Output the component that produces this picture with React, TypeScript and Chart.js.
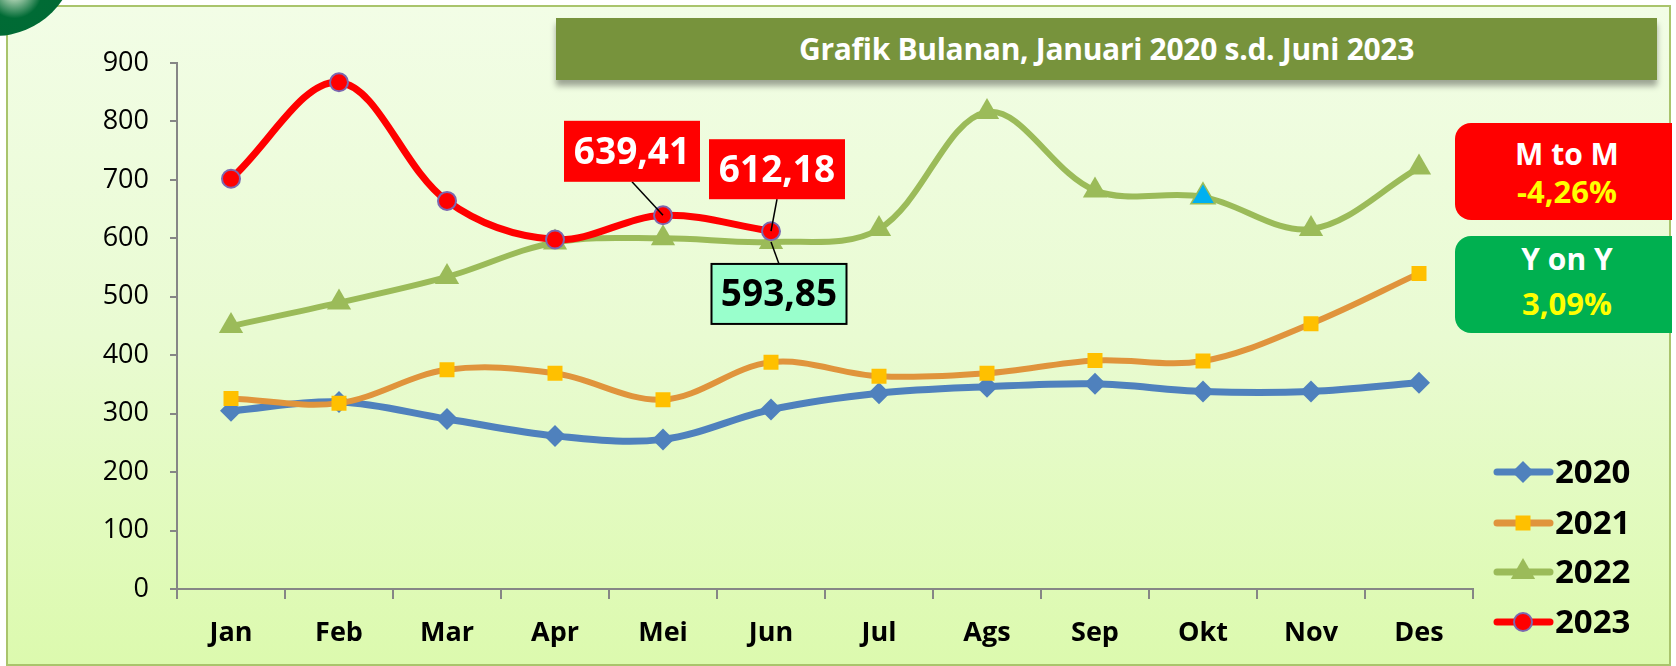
import React, { useEffect, useRef } from "react";
import { Chart, registerables } from "chart.js";

Chart.register(...registerables);

const MONTHS = ["Jan", "Feb", "Mar", "Apr", "Mei", "Jun", "Jul", "Ags", "Sep", "Okt", "Nov", "Des"];
const Y_TICKS = [0, 100, 200, 300, 400, 500, 600, 700, 800, 900];
const SERIES_NAMES = ["2020", "2021", "2022", "2023"];

const DATA_2020 = [305, 320, 291, 262, 256, 307, 335, 346, 351, 338, 338, 353];
const DATA_2021 = [326, 318, 375, 369, 324, 388, 364, 369, 391, 390, 454, 540];
const DATA_2022 = [450, 490, 534, 593, 600, 593.85, 616, 816, 682, 671, 616, 721];
const DATA_2023 = [702, 867, 664, 598, 639.41, 612.18, null, null, null, null, null, null];

const TITLE = "Grafik Bulanan, Januari 2020 s.d. Juni 2023";
const MTOM_LABEL = "M to M";
const MTOM_VALUE = "-4,26%";
const YOY_LABEL = "Y on Y";
const YOY_VALUE = "3,09%";

// callouts: series index, month index, text
const CALLOUTS = [
  { series: 3, index: 4, text: "639,41" },
  { series: 3, index: 5, text: "612,18" },
  { series: 2, index: 5, text: "593,85" },
];

const FONT = "'Open Sans', 'Noto Sans', sans-serif";

const COLORS = {
  blue: "#4F81BD",
  orangeLine: "#E0943C",
  orangeMarker: "#FFC000",
  green: "#9BBB59",
  red: "#FF0000",
  purple: "#7B68B0",
  okt: "#00B0F0",
  axis: "#868686",
};

function drawMarker(ctx: CanvasRenderingContext2D, style: string, x: number, y: number, r: number, fill: string, stroke?: string, bw?: number) {
  ctx.save();
  ctx.beginPath();
  if (style === "rectRot") {
    ctx.moveTo(x - r, y);
    ctx.lineTo(x, y - r);
    ctx.lineTo(x + r, y);
    ctx.lineTo(x, y + r);
    ctx.closePath();
  } else if (style === "rect") {
    const s = Math.SQRT1_2 * r;
    ctx.rect(x - s, y - s, 2 * s, 2 * s);
  } else if (style === "triangle") {
    ctx.moveTo(x, y - r);
    ctx.lineTo(x + r * Math.sin((2 * Math.PI) / 3), y + r / 2);
    ctx.lineTo(x - r * Math.sin((2 * Math.PI) / 3), y + r / 2);
    ctx.closePath();
  } else {
    ctx.arc(x, y, r, 0, Math.PI * 2);
  }
  ctx.fillStyle = fill;
  ctx.fill();
  if (stroke && bw) {
    ctx.strokeStyle = stroke;
    ctx.lineWidth = bw;
    ctx.stroke();
  }
  ctx.restore();
}

const overlayPlugin = {
  id: "overlay",
  afterDatasetsDraw(chart: any) {
    const ctx: CanvasRenderingContext2D = chart.ctx;
    const xs = chart.scales.x;
    const ys = chart.scales.y;
    const series = [DATA_2020, DATA_2021, DATA_2022, DATA_2023];
    const cfg = [
      { dx: -31, dy: -64, w: 136, h: 61, bg: "#FF0000", fg: "#FFFFFF", border: null, above: true },
      { dx: 6, dy: -62, w: 136, h: 60, bg: "#FF0000", fg: "#FFFFFF", border: null, above: true },
      { dx: 8, dy: 52, w: 135, h: 60, bg: "#99FFCC", fg: "#000000", border: "#000000", above: false },
    ];
    CALLOUTS.forEach((c, i) => {
      const v = series[c.series][c.index] as number;
      const px = xs.getPixelForValue(c.index);
      const py = ys.getPixelForValue(v);
      const k = cfg[i];
      const bx = px + k.dx;
      const by = py + k.dy;
      ctx.save();
      ctx.strokeStyle = "#000";
      ctx.lineWidth = 1.5;
      ctx.beginPath();
      ctx.moveTo(bx, k.above ? by + k.h / 2 : by - k.h / 2);
      ctx.lineTo(px, py);
      ctx.stroke();
      ctx.fillStyle = k.bg;
      ctx.fillRect(bx - k.w / 2, by - k.h / 2, k.w, k.h);
      if (k.border) {
        ctx.lineWidth = 2;
        ctx.strokeStyle = k.border;
        ctx.strokeRect(bx - k.w / 2, by - k.h / 2, k.w, k.h);
      }
      ctx.fillStyle = k.fg;
      ctx.font = `bold 37px ${FONT}`;
      ctx.textAlign = "center";
      ctx.textBaseline = "middle";
      ctx.fillText(c.text, bx, by + 2);
      ctx.restore();
    });

    // legend
    const legendYs = [472, 523, 572, 622];
    const lineColors = [COLORS.blue, COLORS.orangeLine, COLORS.green, COLORS.red];
    const markerStyles = ["rectRot", "rect", "triangle", "circle"];
    const markerFills = [COLORS.blue, COLORS.orangeMarker, COLORS.green, COLORS.red];
    const markerR = [11, 10.6, 14, 9];
    SERIES_NAMES.forEach((name, i) => {
      const y = legendYs[i];
      ctx.save();
      ctx.strokeStyle = lineColors[i];
      ctx.lineWidth = 7;
      ctx.lineCap = "round";
      ctx.beginPath();
      ctx.moveTo(1497, y);
      ctx.lineTo(1550, y);
      ctx.stroke();
      drawMarker(ctx, markerStyles[i], 1523, y, markerR[i], markerFills[i], i === 3 ? COLORS.purple : undefined, i === 3 ? 2 : undefined);
      ctx.fillStyle = "#000";
      ctx.font = `bold 33px ${FONT}`;
      ctx.textAlign = "left";
      ctx.textBaseline = "middle";
      ctx.fillText(name, 1555, y + 2);
      ctx.restore();
    });
  },
};

export default function App() {
  const canvasRef = useRef<HTMLCanvasElement | null>(null);

  useEffect(() => {
    const canvas = canvasRef.current;
    if (!canvas) return;
    const common = { borderWidth: 7, tension: 0.35, pointBorderWidth: 0, spanGaps: false };
    const chart = new Chart(canvas, {
      type: "line",
      data: {
        labels: MONTHS,
        datasets: [
          {
            ...common,
            label: SERIES_NAMES[0],
            data: DATA_2020,
            borderColor: COLORS.blue,
            backgroundColor: COLORS.blue,
            pointStyle: "rectRot",
            pointRadius: 11,
            pointBackgroundColor: COLORS.blue,
            pointBorderColor: COLORS.blue,
            order: 3,
          },
          {
            ...common,
            borderWidth: 6,
            label: SERIES_NAMES[1],
            data: DATA_2021,
            borderColor: COLORS.orangeLine,
            backgroundColor: COLORS.orangeMarker,
            pointStyle: "rect",
            pointRadius: 10.6,
            pointBackgroundColor: COLORS.orangeMarker,
            pointBorderColor: COLORS.orangeMarker,
            order: 2,
          },
          {
            ...common,
            borderWidth: 6,
            label: SERIES_NAMES[2],
            data: DATA_2022,
            borderColor: COLORS.green,
            backgroundColor: COLORS.green,
            pointStyle: "triangle",
            pointRadius: 14,
            pointBackgroundColor: MONTHS.map((m) => (m === "Okt" ? COLORS.okt : COLORS.green)),
            pointBorderColor: COLORS.green,
            pointBorderWidth: MONTHS.map((m) => (m === "Okt" ? 1.5 : 0)),
            order: 1,
          },
          {
            ...common,
            label: SERIES_NAMES[3],
            data: DATA_2023,
            borderColor: COLORS.red,
            backgroundColor: COLORS.red,
            pointStyle: "circle",
            pointRadius: 9,
            pointBackgroundColor: COLORS.red,
            pointBorderColor: COLORS.purple,
            pointBorderWidth: 2,
            order: 0,
          },
        ],
      },
      options: {
        responsive: false,
        animation: false,
        devicePixelRatio: 1,
        layout: { padding: { left: 0, top: 63, right: 203, bottom: 0 } },
        plugins: { legend: { display: false }, tooltip: { enabled: false } },
        scales: {
          x: {
            offset: true,
            grid: { display: true, drawOnChartArea: false, drawTicks: true, tickLength: 10, color: COLORS.axis, lineWidth: 2, offset: true },
            border: { display: true, color: COLORS.axis, width: 2 },
            ticks: { color: "#000", font: { family: FONT, size: 27, weight: "bold" }, padding: 18, maxRotation: 0 },
            afterFit: (axis: any) => {
              axis.height = 77;
            },
          },
          y: {
            min: 0,
            max: 900,
            afterBuildTicks: (axis: any) => {
              axis.ticks = Y_TICKS.map((v) => ({ value: v }));
            },
            grid: { display: true, drawOnChartArea: false, drawTicks: true, tickLength: 7, color: COLORS.axis, lineWidth: 2 },
            border: { display: true, color: COLORS.axis, width: 2 },
            ticks: { color: "#000", font: { family: FONT, size: 27 }, padding: 21 },
            afterFit: (axis: any) => {
              axis.width = 177;
            },
          },
        },
      },
      plugins: [overlayPlugin],
    } as any);
    return () => chart.destroy();
  }, []);

  const boxText: React.CSSProperties = {
    fontFamily: FONT,
    fontWeight: 700,
    textAlign: "center",
    lineHeight: 1,
  };

  return (
    <div style={{ position: "fixed", left: 0, top: 0, width: 1676, height: 666, background: "#FFFFFF", overflow: "hidden" }}>
      <div
        style={{
          position: "absolute",
          left: 6,
          top: 5,
          width: 1665,
          height: 661,
          boxSizing: "border-box",
          border: "2px solid #A9C46C",
          background: "linear-gradient(to bottom, #F2FDE6 0%, #E9FBD2 50%, #DCFAAE 100%)",
        }}
      />
      <div
        style={{
          position: "absolute",
          left: -86,
          top: -126,
          width: 162,
          height: 162,
          borderRadius: "50%",
          background: "radial-gradient(circle at 62% 72%, #FFFFFF 0%, #9FC9A8 6%, #006B35 18%, #006633 100%)",
        }}
      />
      <div
        style={{
          position: "absolute",
          left: 556,
          top: 18,
          width: 1101,
          height: 62,
          background: "#77933C",
          boxShadow: "0 6px 6px rgba(0,0,0,0.35)",
          color: "#FFFFFF",
          ...boxText,
          fontSize: 30,
          letterSpacing: -0.3,
          display: "flex",
          alignItems: "center",
          justifyContent: "center",
        }}
      >
        {TITLE}
      </div>
      <div
        style={{
          position: "absolute",
          left: 1455,
          top: 123,
          width: 217,
          height: 97,
          background: "#FF0000",
          borderRadius: "16px 0 0 16px",
        }}
      >
        <div style={{ ...boxText, position: "absolute", left: 0, width: 224, top: 16, fontSize: 30, color: "#FFFFFF" }}>{MTOM_LABEL}</div>
        <div style={{ ...boxText, position: "absolute", left: 0, width: 224, top: 53, fontSize: 31, color: "#FFFF00" }}>{MTOM_VALUE}</div>
      </div>
      <div
        style={{
          position: "absolute",
          left: 1455,
          top: 236,
          width: 217,
          height: 97,
          background: "#00B050",
          borderRadius: "16px 0 0 16px",
        }}
      >
        <div style={{ ...boxText, position: "absolute", left: 0, width: 224, top: 8, fontSize: 30, color: "#FFFFFF" }}>{YOY_LABEL}</div>
        <div style={{ ...boxText, position: "absolute", left: 0, width: 224, top: 52, fontSize: 31, color: "#FFFF00" }}>{YOY_VALUE}</div>
      </div>
      <canvas ref={canvasRef} width={1676} height={666} style={{ position: "absolute", left: 0, top: 0, width: 1676, height: 666 }} />
    </div>
  );
}
